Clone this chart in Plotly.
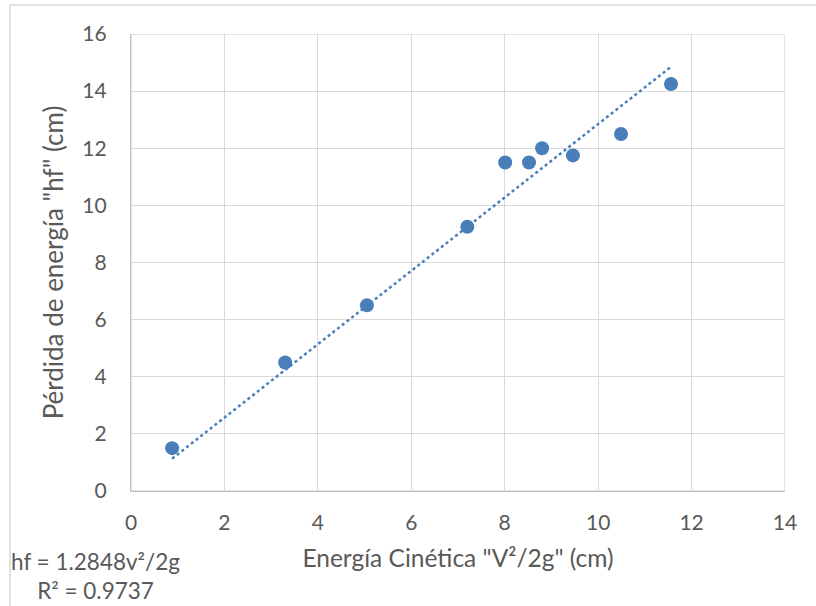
import plotly.graph_objects as go

# Measured head loss vs. kinetic energy head
energia_cinetica = [0.88, 3.30, 5.05, 7.20, 8.01, 8.52, 8.80, 9.46, 10.49, 11.56]
perdida_energia = [1.50, 4.50, 6.50, 9.25, 11.50, 11.50, 12.00, 11.75, 12.50, 14.25]

# Linear trendline through the origin
pendiente = 1.2848
r_cuadrado = 0.9737

x_ticks = [0, 2, 4, 6, 8, 10, 12, 14]
y_ticks = [0, 2, 4, 6, 8, 10, 12, 14, 16]

azul = "#4A7EBB"
gris_texto = "#595959"
fuente = "Lato, Carlito, Calibri, sans-serif"

x_fit = [min(energia_cinetica), max(energia_cinetica)]
y_fit = [pendiente * v for v in x_fit]

fig = go.Figure()
fig.add_trace(go.Scatter(
    x=x_fit, y=y_fit, mode="lines",
    line=dict(color=azul, width=2.5, dash="dot"),
    hoverinfo="skip", showlegend=False,
))
fig.add_trace(go.Scatter(
    x=energia_cinetica, y=perdida_energia, mode="markers",
    marker=dict(color=azul, size=14, line=dict(width=0)),
    showlegend=False,
))

axis_common = dict(
    showgrid=True, gridcolor="#D9D9D9", gridwidth=1.3,
    zeroline=False, showline=True, linecolor="#BFBFBF", linewidth=1.3,
    ticks="", tickfont=dict(family=fuente, size=21, color=gris_texto),
)

fig.update_layout(
    width=816, height=606,
    margin=dict(l=131, r=31, t=34, b=115, autoexpand=False),
    paper_bgcolor="white", plot_bgcolor="white",
    xaxis=dict(range=[0, 14], tickvals=x_ticks, ticklabelstandoff=13,
               title=dict(text='Energía Cinética "V²/2g" (cm)', standoff=16,
                          font=dict(family=fuente, size=24.5, color=gris_texto)),
               automargin=False, **axis_common),
    yaxis=dict(range=[0, 16], tickvals=y_ticks, ticklabelstandoff=19,
               title=dict(text='Pérdida de energía "hf" (cm)', standoff=11,
                          font=dict(family=fuente, size=26, color=gris_texto)),
               automargin=False, **axis_common),
    shapes=[
        # plot area frame
        dict(type="rect", xref="x", yref="y", x0=0, x1=14, y0=0, y1=16,
             line=dict(color="#D9D9D9", width=1.3), layer="below"),
        # chart area frame (top and left edges)
        dict(type="line", xref="paper", yref="paper",
             x0=(10 - 131) / 654, x1=(816 - 131) / 654,
             y0=(491 - 5) / 457, y1=(491 - 5) / 457,
             line=dict(color="#D9D9D9", width=1.5)),
        dict(type="line", xref="paper", yref="paper",
             x0=(10 - 131) / 654, x1=(10 - 131) / 654,
             y0=(491 - 5) / 457, y1=(491 - 606) / 457,
             line=dict(color="#D9D9D9", width=1.5)),
    ],
    annotations=[
        dict(text=f"hf = {pendiente}v²/2g<br>R² = {r_cuadrado}",
             xref="paper", yref="paper",
             x=(95 - 131) / 654, y=(491 - 576) / 457,
             xanchor="center", yanchor="middle", align="center",
             showarrow=False,
             font=dict(family=fuente, size=22.5, color=gris_texto)),
    ],
)

fig.write_html("out.html")
